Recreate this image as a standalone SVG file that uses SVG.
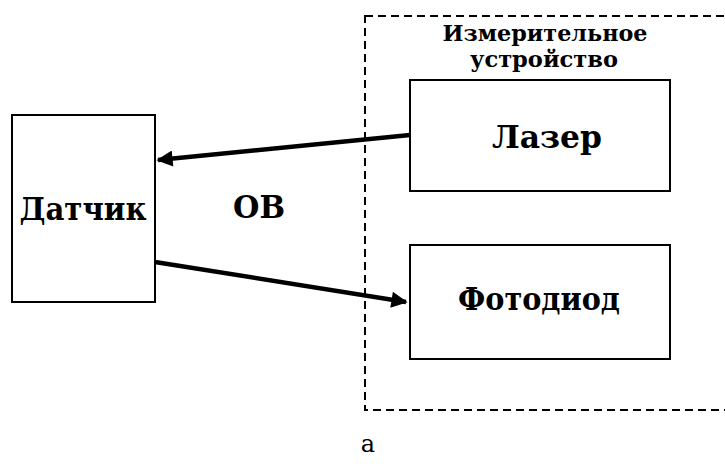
<svg xmlns="http://www.w3.org/2000/svg" width="725" height="464" viewBox="0 0 725 464">
<style>
.box{fill:#fff;stroke:#000;stroke-width:2}
.t{font-family:'DejaVu Serif',serif;font-weight:bold;fill:#000;text-anchor:middle}
.big{font-size:32px}
.small{font-size:22px}
.conn{stroke:#000;stroke-width:4.5;fill:none}
</style>
<defs>
<marker id="ah" viewBox="0 0 10 10" refX="9" refY="5" markerWidth="5" markerHeight="3.6" markerUnits="strokeWidth" orient="auto">
<path d="M0,0 L10,5 L0,10 z" fill="#000"/>
</marker>
</defs>
<rect width="725" height="464" fill="#fff"/>
<g id="device">
<rect x="365" y="16" width="370" height="394" fill="none" stroke="#000" stroke-width="2" stroke-dasharray="8,5"/>
<text class="t small" x="545" y="41" textLength="205" lengthAdjust="spacingAndGlyphs">Измерительное</text>
<text class="t small" x="544" y="67" textLength="148" lengthAdjust="spacingAndGlyphs">устройство</text>
</g>
<g id="laser">
<rect class="box" x="410" y="80" width="260" height="111"/>
<text class="t big" x="547" y="148" textLength="110" lengthAdjust="spacingAndGlyphs">Лазер</text>
</g>
<g id="photodiode">
<rect class="box" x="410" y="245" width="260" height="114"/>
<text class="t big" x="539" y="310" textLength="162" lengthAdjust="spacingAndGlyphs">Фотодиод</text>
</g>
<g id="sensor">
<rect class="box" x="12" y="115" width="143" height="187"/>
<text class="t big" x="83" y="220" textLength="127" lengthAdjust="spacingAndGlyphs">Датчик</text>
</g>
<g id="ob">
<text class="t big" x="259" y="218" textLength="52" lengthAdjust="spacingAndGlyphs">ОВ</text>
</g>
<g id="connectors">
<line class="conn" x1="410" y1="135" x2="158" y2="160" marker-end="url(#ah)"/>
<line class="conn" x1="155" y1="262" x2="406" y2="302" marker-end="url(#ah)"/>
</g>
<text x="368" y="452" font-family="'DejaVu Serif', serif" font-size="24" text-anchor="middle">а</text>
</svg>
